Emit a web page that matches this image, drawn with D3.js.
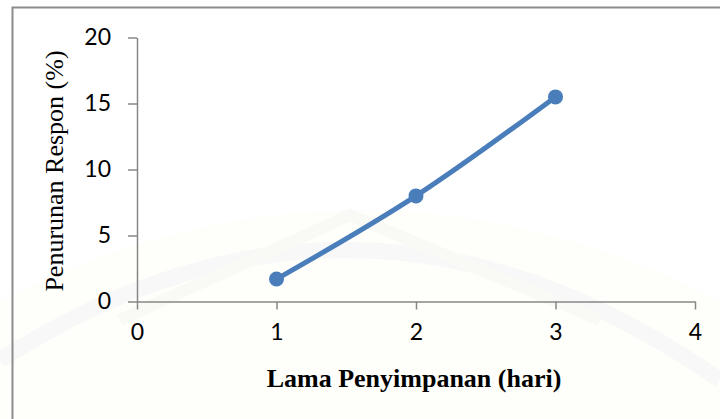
<!DOCTYPE html>
<html>
<head>
<meta charset="utf-8">
<script src="https://cdn.jsdelivr.net/npm/d3@7"></script>
<style>
  html, body { margin: 0; padding: 0; background: #ffffff; }
  svg { display: block; }
</style>
</head>
<body>
<svg id="chart" width="720" height="419"></svg>
<script>
// Storage time (days) and the measured drop in response (%)
const days = [1, 2, 3];
const responseDrop = [1.7, 8.0, 15.5];
const xTicks = [0, 1, 2, 3, 4];
const yTicks = [0, 5, 10, 15, 20];
const xTitle = "Lama Penyimpanan (hari)";
const yTitle = "Penurunan Respon (%)";

const svg = d3.select("#chart");
const W = 720, H = 419;

// very faint background emblem
const bg = svg.append("g");
bg.append("rect").attr("x", 0).attr("y", 0).attr("width", W).attr("height", H).attr("fill", "#ffffff");
bg.append("path")
  .attr("d", "M0,419 L0,300 Q360,120 720,300 L720,419 Z")
  .attr("fill", "#fefefa");
bg.append("path")
  .attr("d", "M0,360 Q360,130 720,380")
  .attr("fill", "none").attr("stroke", "#f8f8f8").attr("stroke-width", 16);
bg.append("path")
  .attr("d", "M120,320 L350,215 L600,320")
  .attr("fill", "none").attr("stroke", "#f9f9f6").attr("stroke-width", 12);

// chart frame
svg.append("path")
  .attr("d", "M12.5,419 L12.5,7.5 L720,7.5")
  .attr("fill", "none").attr("stroke", "#8c8c8c").attr("stroke-width", 2);

const x = d3.scaleLinear().domain([0, 4]).range([137, 695]);
const y = d3.scaleLinear().domain([0, 20]).range([301.5, 37.5]);

const axisColor = "#878787";
const tickFont = "Lato, 'Open Sans', sans-serif";

const xAxis = svg.append("g")
  .attr("transform", `translate(0,${y(0)})`)
  .call(d3.axisBottom(x).tickValues(xTicks).tickSize(8).tickPadding(14).tickSizeOuter(0).tickFormat(d3.format("d")));
const yAxis = svg.append("g")
  .attr("transform", `translate(${x(0)},0)`)
  .call(d3.axisLeft(y).tickValues(yTicks).tickSize(9).tickPadding(17).tickSizeOuter(0).tickFormat(d3.format("d")));

[xAxis, yAxis].forEach(a => {
  a.select(".domain").attr("stroke", axisColor).attr("stroke-width", 1.5);
  a.selectAll(".tick line").attr("stroke", axisColor).attr("stroke-width", 1.5);
  a.selectAll(".tick text")
    .attr("fill", "#000")
    .style("font-family", tickFont)
    .style("font-size", "23px");
});

// smoothed series line
const pts = days.map((d, i) => [x(d), y(responseDrop[i])]);
svg.append("path")
  .datum(pts)
  .attr("d", d3.line().curve(d3.curveCatmullRom.alpha(0)))
  .attr("fill", "none")
  .attr("stroke", "#4a7ebb")
  .attr("stroke-width", 5)
  .attr("stroke-linecap", "round");

svg.append("g").selectAll("circle")
  .data(pts)
  .join("circle")
  .attr("cx", d => d[0])
  .attr("cy", d => d[1])
  .attr("r", 7.5)
  .attr("fill", "#4a7ebb");

// axis titles
svg.append("text")
  .attr("x", 414).attr("y", 387)
  .attr("text-anchor", "middle")
  .style("font-family", "'Liberation Serif', 'Times New Roman', serif")
  .style("font-weight", "bold")
  .style("font-size", "26px")
  .attr("fill", "#000")
  .text(xTitle);

svg.append("text")
  .attr("transform", "translate(63,171) rotate(-90)")
  .attr("text-anchor", "middle")
  .style("font-family", "'Liberation Serif', 'Times New Roman', serif")
  .style("font-size", "26px")
  .attr("fill", "#000")
  .text(yTitle);
</script>
</body>
</html>
